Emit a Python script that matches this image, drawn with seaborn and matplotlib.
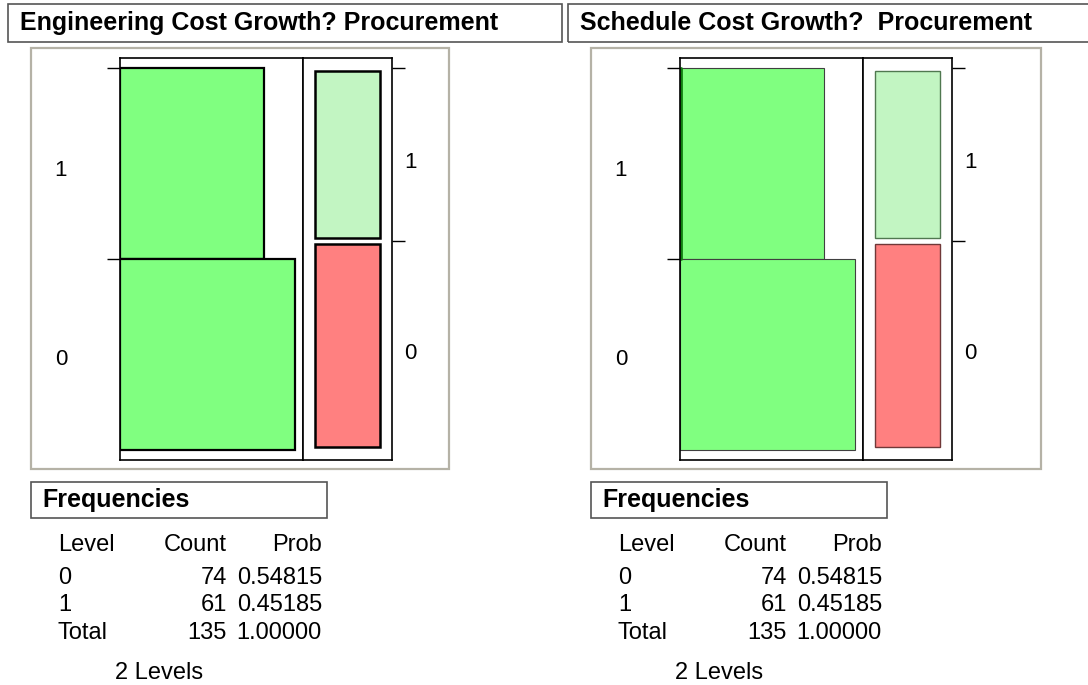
import matplotlib
matplotlib.use("Agg")
import matplotlib.pyplot as plt
import numpy as np
import pandas as pd
import seaborn as sns
from matplotlib.patches import Rectangle

# Data: two identical JMP-style distributions of "Procurement"
titles = ["Engineering Cost Growth? Procurement", "Schedule Cost Growth?  Procurement"]
levels = ["0", "1"]
counts = [74, 61]
total = sum(counts)
probs = [c / total for c in counts]

sns.set_theme(style="white")
plt.rcParams["font.family"] = ["Liberation Sans", "DejaVu Sans"]
plt.rcParams.update({"text.color": "black", "ytick.color": "black",
                     "xtick.color": "black", "axes.labelcolor": "black"})

W, H = 1088, 685
fig = plt.figure(figsize=(W / 100, H / 100), dpi=100)

GREEN = "#80FF80"
LIGHT_GREEN = "#C2F5C2"
RED = "#FF8080"
FRAME = "#B5B2A6"


def px_axes(x0, y0, x1, y1):
    return fig.add_axes([x0 / W, 1 - y1 / H, (x1 - x0) / W, (y1 - y0) / H])


def px_rect(x0, y0, x1, y1, **kw):
    fig.add_artist(Rectangle((x0 / W, 1 - y1 / H), (x1 - x0) / W, (y1 - y0) / H,
                             transform=fig.transFigure, fill=False, **kw))


def px_text(x, y, s, **kw):
    fig.text(x / W, 1 - y / H, s, va="center", color="black", **kw)


def draw_panel(dx, title, title_x1, frame_x1, selected):
    # title box
    px_rect(8 + dx, 4, title_x1, 42, edgecolor="#555555", linewidth=1.2)
    px_text(20 + dx, 23, title, fontsize=18, fontweight="bold")
    # grey outline of the plot frame
    px_rect(31 + dx, 48, frame_x1, 469, edgecolor=FRAME, linewidth=1.6)

    edge = "black" if selected else "#404040"
    lw = 1.6 if selected else 0.8

    # horizontal count bars
    ax = px_axes(120 + dx, 58, 303 + dx, 460)
    df = pd.DataFrame({"Level": levels, "Count": counts})
    sns.barplot(data=df, x="Count", y="Level", order=["1", "0"], orient="h",
                width=1.0, color=GREEN, saturation=1, edgecolor=edge,
                linewidth=lw, ax=ax)
    if not selected:
        ax.axvline(0.4, ymin=0.5, ymax=0.975, color="#108010", linewidth=2)
    ax.set_xlim(0, 77.5)
    ax.set_ylim(1.552, -0.552)
    ax.set_xticks([])
    ax.set_xlabel("")
    ax.set_ylabel("")
    ax.set_yticks([-0.5, 0.5])
    ax.set_yticklabels([])
    ax.set_yticks([0.025, 1.015], minor=True)
    ax.set_yticklabels(["1", "0"], minor=True)
    ax.tick_params(axis="y", which="major", direction="out", length=9.5,
                   width=1, color="black", left=True)
    ax.tick_params(axis="y", which="minor", length=0, pad=38, labelsize=16,
                   left=True, labelcolor="black")
    for s in ax.spines.values():
        s.set_color("black")
        s.set_linewidth(1.2)

    # mosaic bar
    mx = px_axes(303 + dx, 58, 392 + dx, 460)
    bottoms = np.concatenate([[0], np.cumsum(probs)[:-1]])
    gap = 0.008
    mx.bar(0, np.array(probs) - 2 * gap, bottom=bottoms + gap, width=0.72,
           color=[RED, LIGHT_GREEN],
           edgecolor=[edge, edge] if selected else ["#703838", "#507850"],
           linewidth=lw + 0.2)
    mx.set_xlim(-0.5, 0.5)
    mx.set_ylim(-0.026, 1.026)
    mx.set_xticks([])
    bounds = np.cumsum(probs)
    mx.set_yticks(bounds)
    mx.set_yticklabels([])
    mx.set_yticks(bottoms + np.array(probs) / 2 - 0.014, minor=True)
    mx.set_yticklabels(levels, minor=True)
    mx.yaxis.tick_right()
    mx.tick_params(axis="y", which="major", direction="out", length=9.5,
                   width=1, color="black", right=True, left=False)
    mx.tick_params(axis="y", which="minor", length=0, pad=9, labelsize=16,
                   right=True, left=False, labelcolor="black")
    for s in mx.spines.values():
        s.set_color("black")
        s.set_linewidth(1.2)

    # frequencies table
    px_rect(31 + dx, 482, 327 + dx, 518, edgecolor="#555555", linewidth=1.2)
    px_text(42 + dx, 500, "Frequencies", fontsize=18, fontweight="bold")
    rows = [("Level", "Count", "Prob")]
    rows += [(lv, str(c), f"{p:.5f}") for lv, c, p in zip(levels, counts, probs)]
    rows += [("Total", str(total), f"{sum(probs):.5f}")]
    for (a, b, c), y in zip(rows, [545, 578, 605, 633]):
        px_text(58 + dx, y, a, fontsize=17)
        px_text(227 + dx, y, b, fontsize=17, ha="right")
        px_text(322 + dx, y, c, fontsize=17, ha="right")
    px_text(115 + dx, 673, f"{len(levels)} Levels", fontsize=17)


draw_panel(0, titles[0], 562, 449, True)
draw_panel(560, titles[1], 1100, 1041, False)

fig.savefig("out.png", dpi=100)
